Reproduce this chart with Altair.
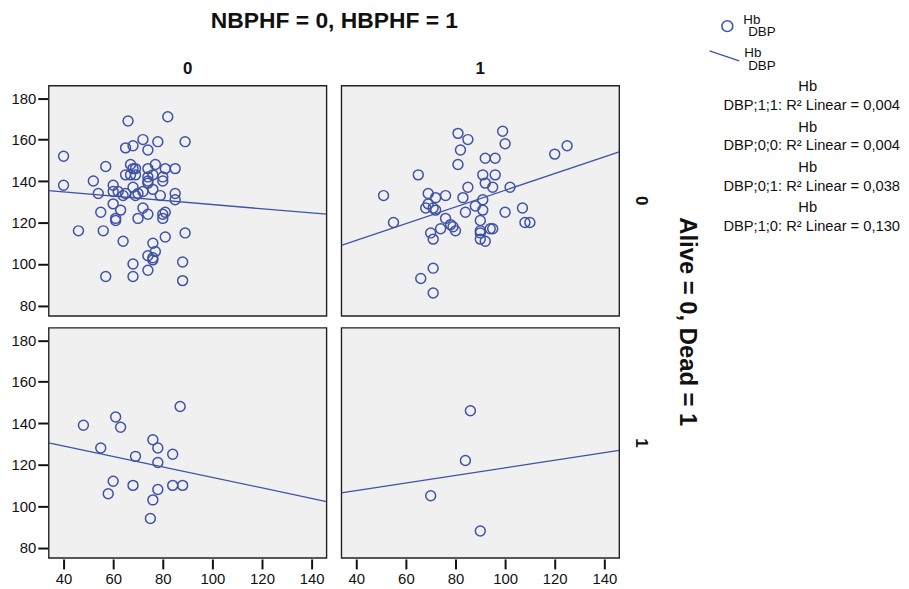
import altair as alt
import pandas as pd

# ---- data (x = DBP, y = Hb) ----
# row: Alive = 0, Dead = 1 ; column: NBPHF = 0, HBPHF = 1
tl_dbp = [40, 40, 46, 52, 54, 55, 56, 57, 57, 60, 60, 60, 61, 61, 62, 63, 64, 64, 65, 66,
          65, 68, 67, 65, 67, 69, 68, 69, 68, 68, 68, 70, 70, 72, 72, 72, 74, 74, 74, 74,
          74, 74, 74, 76, 77, 76, 76, 77, 76, 76, 78, 79, 80, 80, 80, 80, 81, 81, 81, 82,
          85, 85, 85, 88, 88, 89, 89, 74, 69]
tl_hb = [152, 138, 116, 140, 134, 125, 116, 147, 94, 138, 129, 135, 122, 121, 135, 126, 111, 133, 134, 169,
         156, 157, 148, 143, 143, 143, 146, 146, 137, 100, 94, 122, 134, 160, 127, 135, 155, 146, 142, 139,
         124, 97, 104, 110, 106, 102, 103, 148, 143, 136, 159, 133, 142, 140, 124, 122, 125, 113, 146, 171,
         146, 134, 131, 101, 92, 115, 159, 140, 133]

tr_dbp = [51, 55, 65, 66, 69, 68, 69, 71, 72, 72, 70, 71, 71, 71, 76, 76, 74, 78, 79, 80,
          81, 82, 85, 81, 83, 85, 84, 88, 91, 91, 90, 90, 90, 92, 90, 94, 95, 92, 96, 91,
          96, 92, 95, 99, 100, 100, 102, 107, 108, 110, 120, 125]
tr_hb = [133, 120, 143, 93, 134, 127, 129, 127, 132, 126, 115, 112, 98, 86, 133, 122, 117, 119, 118, 116,
         163, 155, 160, 148, 132, 137, 125, 128, 131, 126, 121, 116, 112, 111, 115, 117, 117, 151, 151, 143,
         143, 139, 137, 164, 158, 125, 137, 127, 120, 120, 153, 157]

bl_dbp = [48, 55, 61, 63, 60, 58, 69, 68, 76, 78, 78, 78, 76, 75, 84, 84, 88, 87]
bl_hb = [139, 128, 143, 138, 112, 106, 124, 110, 132, 128, 121, 108, 103, 94, 125, 110, 110, 148]

br_dbp = [86, 84, 70, 90]
br_hb = [146, 122, 105, 88]

x_ticks = [40, 60, 80, 100, 120, 140]
y_ticks = [80, 100, 120, 140, 160, 180]

legend_y_name = "Hb"
legend_x_name = "DBP"
r2_labels = ["DBP;1;1: R\u00b2 Linear = 0,004",
             "DBP;0;0: R\u00b2 Linear = 0,004",
             "DBP;0;1: R\u00b2 Linear = 0,038",
             "DBP;1;0: R\u00b2 Linear = 0,130"]

rows = []
for dead, hbphf, xs, ys in [(0, 0, tl_dbp, tl_hb), (0, 1, tr_dbp, tr_hb),
                            (1, 0, bl_dbp, bl_hb), (1, 1, br_dbp, br_hb)]:
    for xv, yv in zip(xs, ys):
        rows.append({"dead": dead, "hbphf": hbphf, "DBP": xv, "Hb": yv})
df = pd.DataFrame(rows)

BLUE = "#3f52a6"
FONT = "Liberation Sans"

xscale = alt.Scale(domain=[34, 146], nice=False, zero=False)
yscale = alt.Scale(domain=[75, 186], nice=False, zero=False)

points = alt.Chart().mark_point(
    shape="circle", filled=False, size=100, strokeWidth=1.5, color=BLUE, opacity=1
).encode(
    x=alt.X("DBP:Q", scale=xscale, title=None,
            axis=alt.Axis(values=x_ticks, domain=False, grid=False, tickSize=10, tickWidth=2,
                          tickColor="#111", labelFontSize=15, labelColor="#111", labelFont=FONT,
                          labelPadding=3)),
    y=alt.Y("Hb:Q", scale=yscale, title=None,
            axis=alt.Axis(values=y_ticks, domain=False, grid=False, tickSize=10, tickWidth=2,
                          tickColor="#111", labelFontSize=15, labelColor="#111", labelFont=FONT,
                          labelPadding=2)),
)

line = alt.Chart().transform_regression(
    "DBP", "Hb", groupby=["dead", "hbphf"], extent=[34, 146]
).mark_line(color=BLUE, strokeWidth=1.3, clip=True).encode(
    x=alt.X("DBP:Q", scale=xscale),
    y=alt.Y("Hb:Q", scale=yscale),
)

facet = alt.layer(points, line, data=df).properties(width=280, height=232).facet(
    column=alt.Column("hbphf:N", header=alt.Header(
        title="NBPHF = 0, HBPHF = 1", titleFontSize=23, titleFontWeight="bold", titleFont=FONT,
        titleColor="#111", titlePadding=17,
        labelFontSize=17, labelFontWeight="bold", labelFont=FONT, labelColor="#111", labelPadding=6.5)),
    row=alt.Row("dead:N", header=alt.Header(
        title="Alive = 0, Dead = 1", titleOrient="right", titleAngle=90, titleFontSize=24,
        titleFontWeight="bold", titleFont=FONT, titleColor="#111", titlePadding=15,
        labelOrient="right", labelAngle=90, labelFontSize=17, labelFontWeight="bold",
        labelFont=FONT, labelColor="#111", labelPadding=12)),
    spacing={"row": 10, "column": 13},
)

# ---- custom legend panel (its origin lines up with the top of the panels) ----
one = pd.DataFrame({"k": [0]})
lbl = pd.DataFrame({"top": [legend_y_name], "bottom": [legend_x_name]})

sym_pt = alt.Chart(one).mark_point(shape="circle", filled=False, size=120, strokeWidth=1.6,
                                   color=BLUE, opacity=1).encode(
    x=alt.value(25), y=alt.value(-60))
sym_ln = alt.Chart(one).mark_rule(color=BLUE, strokeWidth=1.4).encode(
    x=alt.value(7), x2=alt.value(37), y=alt.value(-35), y2=alt.value(-25))

def small_text(field, xv, yv):
    return alt.Chart(lbl).mark_text(align="left", baseline="alphabetic", fontSize=13.5, font=FONT,
                                    color="#111").encode(text=f"{field}:N", x=alt.value(xv),
                                                         y=alt.value(yv))

t1a = small_text("top", 41, -62)
t1b = small_text("bottom", 46, -49.8)
t2a = small_text("top", 42, -29)
t2b = small_text("bottom", 46, -15.7)

r2df = pd.DataFrame({"label": r2_labels, "slot": list(range(len(r2_labels))),
                     "top": [legend_y_name] * len(r2_labels)})
slot_scale = alt.Scale(domain=[0, 3], range=[24.7, 146.3])
r2_text = alt.Chart(r2df).mark_text(align="left", baseline="alphabetic", fontSize=14.8, font=FONT,
                                    color="#111").encode(
    text="label:N", x=alt.value(21), y=alt.Y("slot:Q", scale=slot_scale, axis=None))
r2_top = alt.Chart(r2df).mark_text(align="center", baseline="alphabetic", fontSize=14.8, font=FONT,
                                   color="#111", dy=-19).encode(
    text="top:N", x=alt.value(106), y=alt.Y("slot:Q", scale=slot_scale, axis=None))

legend = alt.layer(sym_pt, sym_ln, t1a, t1b, t2a, t2b, r2_text, r2_top).properties(
    width=150, height=200, view=alt.ViewBackground(fill="transparent", stroke="transparent"))

chart = alt.hconcat(facet, legend, spacing=3).properties(
    padding={"left": 2, "top": 0, "right": 0, "bottom": 0}
).configure_view(
    fill="#f0f0f0", stroke="#222", strokeWidth=1.4
).configure_concat(spacing=3)

chart.save("out.html", embed_options={"renderer": "svg", "actions": False})
